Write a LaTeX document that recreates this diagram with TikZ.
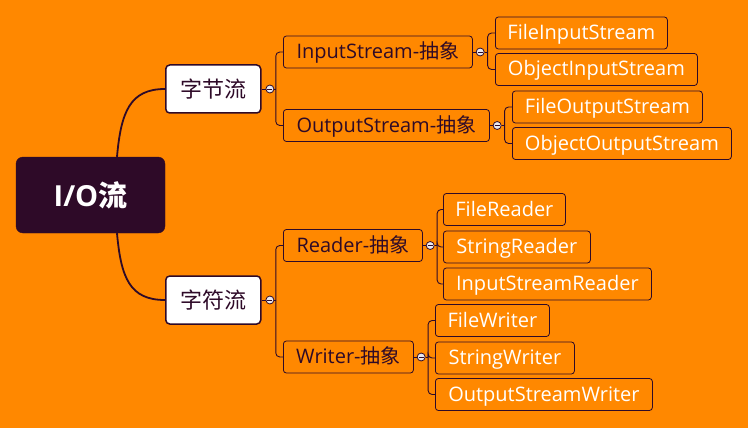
\documentclass[tikz,border=0pt]{standalone}
\usepackage{fontspec}
\setmainfont{Open Sans}
\newfontfamily\cjk{Noto Sans CJK SC}
\usetikzlibrary{positioning}
\definecolor{mapbg}{RGB}{255,136,0}
\definecolor{plum}{RGB}{46,10,40}
\definecolor{knobfill}{RGB}{232,232,240}

\begin{document}
\begin{tikzpicture}[x=1pt,y=-1pt,
  every node/.style={font=\fontsize{20}{24}\selectfont},
  root/.style={draw=plum, fill=plum, rounded corners=7pt, minimum width=149pt, minimum height=76pt, text=white, font=\fontsize{29}{34}\selectfont\bfseries},
  topic/.style={draw=plum, line width=1.5pt, fill=white, rounded corners=4pt, minimum width=95pt, minimum height=48pt, text=plum, anchor=west, font=\fontsize{22}{26}\selectfont},
  sub/.style={draw=plum, line width=0.8pt, rounded corners=3pt, minimum height=32pt, text height=16.5pt, text depth=3.5pt, inner xsep=8pt, text=plum, anchor=west},
  leaf/.style={sub, text=white},
  knob/.style={circle, draw=plum, fill=knobfill, line width=0.8pt, minimum size=8pt, inner sep=0pt,
    path picture={\draw[plum, line width=0.8pt] ([xshift=-2.5pt]path picture bounding box.center) -- ([xshift=2.5pt]path picture bounding box.center);}},
  limb/.style={draw=plum, line width=1.8pt},
  twig/.style={draw=plum, line width=0.9pt, rounded corners=4pt}]
\fill[mapbg] (0,0) rectangle (748,428);
\useasboundingbox (0,0) rectangle (748,428);

\node[root] (io) at (90.5,195) {I/O{\cjk 流}};
\node[topic] (byte) at (165,89) {\cjk 字节流};
\node[topic] (char) at (165,300) {\cjk 字符流};
\node[knob, right=4pt of byte] (kb) {};
\node[knob, right=4pt of char] (kc) {};

% byte streams
\node[sub, minimum width=189pt] (in) at (283,52) {InputStream-{\cjk 抽象}};
\node[sub, minimum width=206pt] (out) at (283,125.5) {OutputStream-{\cjk 抽象}};
\node[knob, right=3pt of in] (ki) {};
\node[knob, right=3pt of out] (ko) {};
\node[leaf, minimum width=172pt] (fis) at (495,33) {FileInputStream};
\node[leaf, minimum width=202pt] (ois) at (495,69.5) {ObjectInputStream};
\node[leaf, minimum width=190pt] (fos) at (512,107) {FileOutputStream};
\node[leaf, minimum width=219pt] (oos) at (512,143.5) {ObjectOutputStream};

% char streams
\node[sub, minimum width=139pt] (rd) at (283,245.5) {Reader-{\cjk 抽象}};
\node[sub, minimum width=130pt] (wr) at (283,357) {Writer-{\cjk 抽象}};
\node[knob, right=3pt of rd] (kr) {};
\node[knob, right=3pt of wr] (kw) {};
\node[leaf, minimum width=122pt] (fr) at (443,209.5) {FileReader};
\node[leaf, minimum width=147pt] (sr) at (443,247) {StringReader};
\node[leaf, minimum width=208pt] (isr) at (443,284) {InputStreamReader};
\node[leaf, minimum width=114pt] (fw) at (435,320.5) {FileWriter};
\node[leaf, minimum width=139pt] (sw) at (435,358) {StringWriter};
\node[leaf, minimum width=217pt] (osw) at (435,394.5) {OutputStreamWriter};

\draw[limb] ([xshift=26.5pt]io.north) .. controls +(4,-45) and +(-35,0) .. (byte.west);
\draw[limb] ([xshift=26.5pt]io.south) .. controls +(4,45) and +(-35,0) .. (char.west);

\draw[twig] (byte.east) -- (kb.west);
\draw[twig] (char.east) -- (kc.west);
\draw[twig] (in.east) -- (ki.west);
\draw[twig] (out.east) -- (ko.west);
\draw[twig] (rd.east) -- (kr.west);
\draw[twig] (wr.east) -- (kw.west);

\draw[twig] (kb.east) -- ++(1.5,0) coordinate (xb);
\foreach \k in {in,out} \draw[twig] (xb) |- (\k.west);
\draw[twig] (kc.east) -- ++(1.5,0) coordinate (xc);
\foreach \k in {rd,wr} \draw[twig] (xc) |- (\k.west);
\draw[twig] (ki.east) -- ++(3,0) coordinate (xi);
\foreach \k in {fis,ois} \draw[twig] (xi) |- (\k.west);
\draw[twig] (ko.east) -- ++(3,0) coordinate (xo);
\foreach \k in {fos,oos} \draw[twig] (xo) |- (\k.west);
\draw[twig] (kr.east) -- ++(2.5,0) coordinate (xr);
\foreach \k in {fr,sr,isr} \draw[twig] (xr) |- (\k.west);
\draw[twig] (kw.east) -- ++(2.5,0) coordinate (xw);
\foreach \k in {fw,sw,osw} \draw[twig] (xw) |- (\k.west);
\end{tikzpicture}
\end{document}
